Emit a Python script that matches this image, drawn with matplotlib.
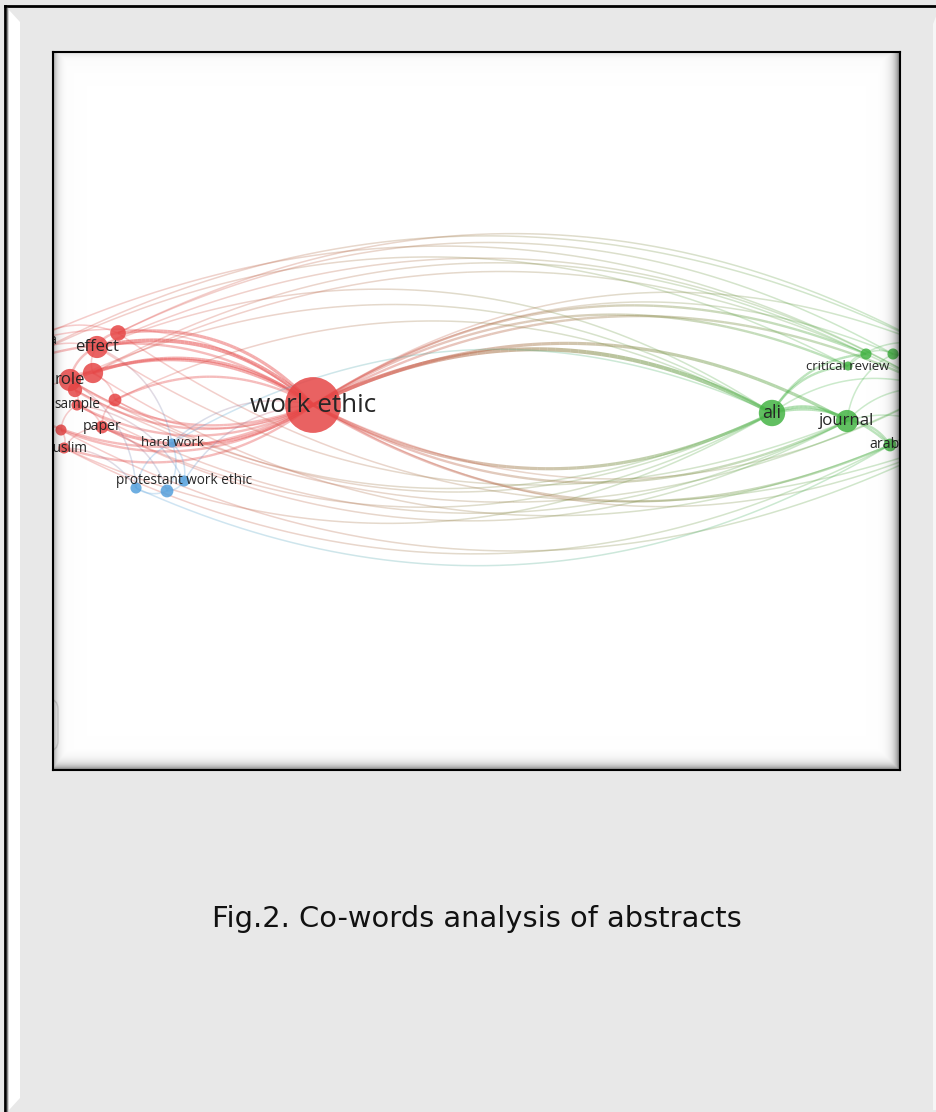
import numpy as np
import matplotlib.pyplot as plt
from matplotlib.collections import LineCollection
from matplotlib.patches import Circle, Polygon, FancyBboxPatch
from matplotlib.colors import to_rgb

# Co-word map of abstracts: term positions (map units), occurrences, cluster
labels = ['work ethic', 'effect', '', 'role', '', '', 'sample', '', 'paper', '', 'muslim',
          'malaysia', '', '',
          'ali', 'journal', 'critical review', '', '', 'arabia', '', '', '',
          'hard work', 'protestant work ethic', '', '']
map_x = [0, -216, -195, -243, -220, -238, -236, -198, -211, -252, -249,
         -284, -300, -290,
         459, 534, 535, 553, 580, 577, 625, 640, 615,
         -141, -129, -146, -177]
map_y = [0, 58, 72, 25, 32, 15, 0, 5, -22, -25, -43,
         64, 40, -8,
         -8, -16, 39, 51, 51, -40, 15, -35, 60,
         -38, -76, -86, -83]
occurrences = [76, 12, 6, 12, 10, 5, 3, 4, 4, 3, 3,
               4, 6, 4,
               17, 12, 2, 3, 3, 4, 6, 5, 4,
               2, 3, 4, 3]
cluster = [0] * 14 + [1] * 9 + [2] * 4

# co-occurrence links (source, target, strength)
links = [
    (1, 0, 4), (2, 0, 3), (4, 0, 3), (3, 0, 3), (12, 0, 2), (11, 0, 1), (0, 5, 2), (0, 6, 2),
    (7, 0, 2), (0, 8, 3), (0, 9, 2), (0, 10, 2), (0, 13, 2), (0, 7, 1), (0, 3, 2),
    (1, 2, 2), (3, 4, 2), (3, 1, 2), (4, 1, 1), (5, 6, 1), (8, 7, 1), (9, 10, 1), (4, 7, 1),
    (6, 8, 1), (12, 1, 1), (13, 3, 1), (11, 2, 1), (10, 8, 1), (9, 6, 1),
    (1, 20, 1), (2, 18, 1), (11, 20, 1), (12, 22, 1), (2, 22, 1), (4, 17, 1), (1, 14, 1),
    (3, 14, 1), (12, 16, 1), (4, 20, 1), (7, 14, 1),
    (14, 3, 1), (15, 1, 1), (19, 4, 1), (14, 8, 1), (15, 6, 1), (21, 9, 1), (19, 10, 1),
    (14, 7, 1), (20, 5, 1), (21, 2, 1), (15, 8, 1), (14, 10, 1),
    (0, 14, 4), (0, 15, 3), (0, 16, 2), (0, 17, 2), (0, 18, 1), (0, 20, 2), (0, 22, 1),
    (14, 0, 3), (15, 0, 2), (19, 0, 2), (21, 0, 1), (20, 0, 1),
    (14, 15, 3), (14, 16, 2), (14, 17, 2), (15, 19, 2), (16, 17, 1), (15, 18, 1), (14, 19, 2),
    (17, 18, 1), (15, 20, 1), (19, 21, 1), (14, 20, 1), (16, 22, 1), (18, 20, 1), (15, 21, 1),
    (23, 24, 1), (23, 25, 1), (24, 25, 1), (25, 26, 1), (23, 0, 1), (24, 0, 1), (23, 14, 1),
    (19, 26, 1), (3, 26, 1), (1, 23, 1), (8, 25, 1), (10, 26, 1), (6, 24, 1), (26, 23, 1),
]

caption = 'Fig.2. Co-words analysis of abstracts'

cluster_colors = [np.array(to_rgb(c)) for c in ('#e64646', '#45b445', '#55a0dc')]

W, H = 937, 1112
fig = plt.figure(figsize=(W / 100, H / 100), dpi=100)
fig.patch.set_facecolor('#e8e8e8')

# page background with bevelled frame
bg = fig.add_axes([0, 0, 1, 1])
bg.set_xlim(0, W)
bg.set_ylim(H, 0)
bg.axis('off')
bg.add_patch(Polygon([(9, 10), (20, 22), (20, 1098), (9, 1110)], closed=True,
                     facecolor='white', edgecolor='none'))
bg.add_patch(Polygon([(937, 14), (933, 24), (933, 1110), (937, 1110)], closed=True,
                     facecolor='#f6f6f6', edgecolor='none'))
bg.plot([5, 5], [6, H], color='black', lw=2)
bg.plot([5, W], [6, 6], color='black', lw=2)
bg.plot([7.5, 7.5], [8, H], color='#888888', lw=1)
bg.text(477, 919, caption, ha='center', va='center', fontsize=20.8,
        family='DejaVu Sans', color='#111111')

# network panel (1 map unit = 1 px)
px0, py0, px1, py1 = 53, 52, 900, 770
rect = [px0 / W, 1 - py1 / H, (px1 - px0) / W, (py1 - py0) / H]
ax = fig.add_axes(rect)
ax.set_facecolor('white')
ax.set_xlim(-260, 587)
ax.set_ylim(-365, 353)
ax.set_aspect('equal')
ax.set_xticks([])
ax.set_yticks([])
for s in ax.spines.values():
    s.set_visible(False)

pos = np.column_stack([map_x, map_y]).astype(float)
t = np.linspace(0, 1, 60)[:, None]
for a, b, w in links:
    p0, p1 = pos[a], pos[b]
    d = p1 - p0
    ctrl = (p0 + p1) / 2 + 0.26 * np.array([-d[1], d[0]])
    pts = (1 - t) ** 2 * p0 + 2 * (1 - t) * t * ctrl + t ** 2 * p1
    segs = np.stack([pts[:-1], pts[1:]], axis=1)
    frac = (np.arange(len(segs)) + 0.5) / len(segs)
    ca, cb = cluster_colors[cluster[a]], cluster_colors[cluster[b]]
    cols = (1 - frac)[:, None] * ca + frac[:, None] * cb
    alpha = 0.2 + 0.08 * w
    rgba = np.column_stack([cols, np.full(len(cols), alpha)])
    lc = LineCollection(segs, colors=rgba, linewidths=0.5 + 0.6 * w,
                        capstyle='butt', zorder=1)
    ax.add_collection(lc)

for i in range(len(labels)):
    r = 3.2 * np.sqrt(occurrences[i])
    ax.add_patch(Circle(pos[i], r, facecolor=cluster_colors[cluster[i]],
                        edgecolor='none', alpha=0.85, zorder=2))
for i, lab in enumerate(labels):
    if lab:
        ax.text(pos[i][0], pos[i][1], lab, ha='center', va='center',
                fontsize=7.6 + 1.29 * np.sqrt(occurrences[i]), family='Open Sans',
                color='#262626', zorder=3, clip_on=True)

ax.add_patch(FancyBboxPatch((-285, -346), 30, 52, boxstyle='round,pad=0,rounding_size=10',
                            facecolor='none', edgecolor='#dddddd', lw=1, zorder=4))

# inner bevel shading along the panel edges
ov = fig.add_axes(rect)
nx, ny = px1 - px0, py1 - py0
xx, yy = np.meshgrid(np.arange(nx), np.arange(ny))
dl, dr = xx, nx - 1 - xx
dt, db = yy, ny - 1 - yy
shade = np.maximum.reduce([0.55 * np.exp(-dr / 5.0), 0.5 * np.exp(-db / 5.0),
                           0.35 * np.exp(-dl / 4.0), 0.12 * np.exp(-dt / 4.0)])
edge = np.minimum.reduce([dl, dr, dt, db])
shade = np.maximum(shade, 0.025 * np.exp(-edge / 18.0))
img = np.zeros((ny, nx, 4))
img[..., 3] = shade
ov.imshow(img, extent=(0, nx, ny, 0), interpolation='bilinear')
ov.set_xlim(0, nx)
ov.set_ylim(ny, 0)
ov.set_xticks([])
ov.set_yticks([])
ov.patch.set_alpha(0)
for s in ov.spines.values():
    s.set_color('black')
    s.set_linewidth(1.5)

fig.savefig('out.png', dpi=100, facecolor=fig.get_facecolor())
